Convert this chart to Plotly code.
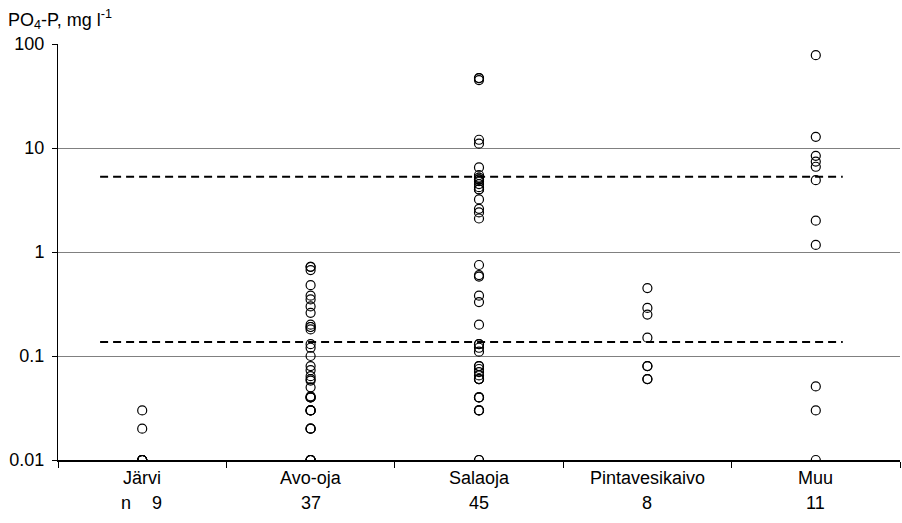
import plotly.graph_objects as go

categories = ["Järvi", "Avo-oja", "Salaoja", "Pintavesikaivo", "Muu"]
counts = ["9", "37", "45", "8", "11"]

jarvi = [0.03, 0.02, 0.01, 0.01, 0.01, 0.01, 0.01, 0.01, 0.01]
avo_oja = [0.72, 0.72, 0.67, 0.48, 0.38, 0.35, 0.30, 0.26, 0.20, 0.19, 0.19, 0.18,
           0.13, 0.12, 0.10, 0.08, 0.073, 0.064, 0.06, 0.058, 0.05, 0.041,
           0.04, 0.04, 0.04, 0.03, 0.03, 0.03, 0.03, 0.02, 0.02, 0.02,
           0.01, 0.01, 0.01, 0.01, 0.01]
salaoja = [47, 47, 45, 12, 11, 6.5, 5.5, 5.2, 5.0, 5.0, 4.8, 4.5, 4.2, 4.0, 4.0,
           3.2, 2.6, 2.4, 2.1, 0.75, 0.6, 0.58, 0.38, 0.33, 0.2,
           0.13, 0.13, 0.12, 0.11, 0.08, 0.08, 0.075, 0.07, 0.065, 0.06, 0.06, 0.06,
           0.04, 0.04, 0.04, 0.03, 0.03, 0.03, 0.01, 0.01]
pintavesikaivo = [0.45, 0.29, 0.25, 0.15, 0.08, 0.08, 0.06, 0.06]
muu = [78, 12.8, 8.4, 7.4, 6.6, 4.9, 2.0, 1.17, 0.051, 0.03, 0.01]

series = [jarvi, avo_oja, salaoja, pintavesikaivo, muu]
threshold_upper = 5.3
threshold_lower = 0.136
threshold_x = [0.25, 4.66]

fig = go.Figure()
for i, vals in enumerate(series):
    fig.add_trace(go.Scatter(
        x=[i + 0.5] * len(vals), y=vals, mode="markers",
        marker=dict(symbol="circle-open", size=9, color="black", line=dict(width=1.2)),
        showlegend=False, hoverinfo="y"))

for t in (threshold_upper, threshold_lower):
    fig.add_trace(go.Scatter(
        x=threshold_x, y=[t, t], mode="lines",
        line=dict(color="black", width=2, dash="8px,5px"),
        showlegend=False, hoverinfo="skip"))

font = dict(family="Liberation Sans, Arial, sans-serif", size=18, color="black")

annotations = []
for i, (c, n) in enumerate(zip(categories, counts)):
    annotations.append(dict(x=i + 0.5, y=0, xref="x", yref="paper", text=c,
                            showarrow=False, yshift=-18, font=font, yanchor="middle"))
    xs = 0.5 + i
    if i == 0:
        annotations.append(dict(x=xs, y=0, xref="x", yref="paper", text="n",
                                showarrow=False, yshift=-43, xshift=-16, font=font, yanchor="middle"))
        annotations.append(dict(x=xs, y=0, xref="x", yref="paper", text=n,
                                showarrow=False, yshift=-43, xshift=15, font=font, yanchor="middle"))
    else:
        annotations.append(dict(x=xs, y=0, xref="x", yref="paper", text=n,
                                showarrow=False, yshift=-43, font=font, yanchor="middle"))

annotations.append(dict(x=0, y=1, xref="paper", yref="paper",
                        text="PO<sub>4</sub>-P, mg l<sup>-1</sup>",
                        showarrow=False, xanchor="left", yanchor="middle",
                        xshift=-52, yshift=25, font=font))

fig.update_layout(
    width=902, height=523,
    margin=dict(l=58, r=2, t=44, b=63),
    paper_bgcolor="white", plot_bgcolor="white",
    font=font,
    annotations=annotations,
    xaxis=dict(range=[0, 5], tickvals=[0, 1, 2, 3, 4, 5], showticklabels=False,
               ticks="outside", ticklen=6, tickcolor="black", tickwidth=1,
               showgrid=False, zeroline=False, showline=True, linecolor="black", linewidth=2),
    yaxis=dict(type="log", range=[-2, 2], tickvals=[0.01, 0.1, 1, 10, 100],
               ticktext=["0.01", "0.1", "1", "10", "100"],
               ticks="outside", ticklen=5, tickcolor="black", tickwidth=1,
               ticklabelstandoff=4,
               showgrid=True, gridcolor="#808080", gridwidth=1,
               zeroline=False, showline=True, linecolor="black", linewidth=1,
               tickfont=font),
)

fig.write_html("out.html")
